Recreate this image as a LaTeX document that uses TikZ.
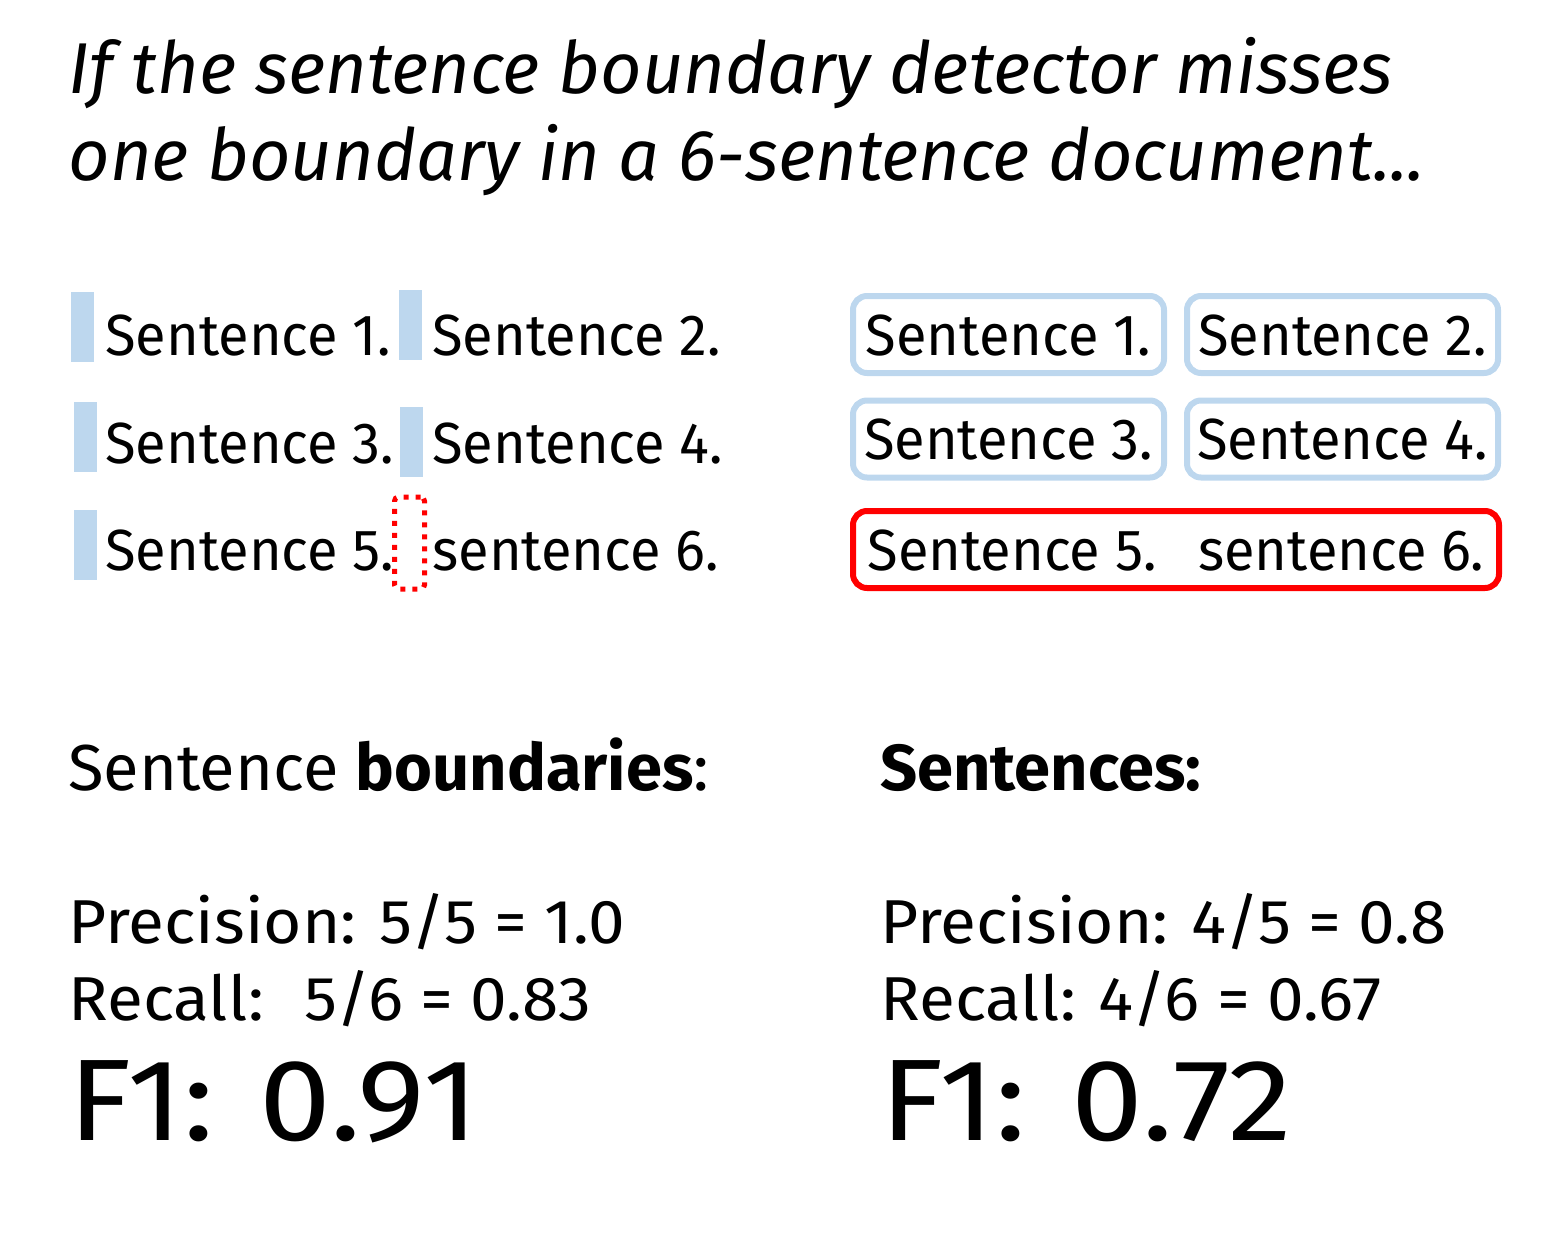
\documentclass[tikz,border=0pt]{standalone}
\usepackage{fontspec}
\setmainfont{Fira Sans}
\newfontfamily\sentfont[FakeStretch=0.965]{Fira Sans}
\newfontfamily\scorefont[FakeStretch=1.06]{Fira Sans}
\newfontfamily\fonefont[FakeStretch=1.11]{Fira Sans}
\usetikzlibrary{positioning}
\definecolor{BarBlue}{HTML}{BDD7EE}
\definecolor{MissRed}{HTML}{FF0000}
\tikzset{
    titletext/.style={anchor=base west, inner sep=0pt, font=\itshape\fontsize{36}{36}\selectfont},
    senttext/.style={anchor=base west, inner sep=0pt, font=\sentfont\fontsize{29}{29}\selectfont},
    bdry/.style={rectangle, fill=BarBlue, inner sep=0pt, minimum width=11.5pt, minimum height=35pt},
    missbdry/.style={rectangle, draw=MissRed, line width=2.5pt, dash pattern=on 2.5pt off 3.5pt, rounded corners=2pt, inner sep=0pt, minimum width=15pt, minimum height=46pt},
    sbox/.style={rectangle, rounded corners=7pt, draw=BarBlue, line width=3pt, inner sep=0pt,
                 minimum width=155.5pt, minimum height=38.5pt, text height=25pt, text depth=4.5pt,
                 font=\sentfont\fontsize{29}{29}\selectfont},
    headtext/.style={anchor=base west, inner sep=0pt, font=\fontsize{32.5}{32.5}\selectfont},
    scoretext/.style={anchor=base west, inner sep=0pt, font=\scorefont\fontsize{31}{31}\selectfont},
    fonetext/.style={anchor=base west, inner sep=0pt, font=\fonefont\fontsize{58}{58}\selectfont},
}

\begin{document}
\begin{tikzpicture}[x=0.5pt, y=-0.5pt]

    \useasboundingbox (0,0) rectangle (1549,1237);

    % --- Titolo ---
    \node[titletext] (title1) at (68, 93) {If the sentence boundary detector misses};
    \node[titletext] (title2) at (68, 180) {one boundary in a 6-sentence document...};

    % --- Confini di frase (sinistra) ---
    \node[bdry] (b1) at (82.5, 327) {};
    \node[senttext] (l1) at (105, 355) {Sentence 1.};
    \node[bdry] (b2) at (410.5, 324.5) {};
    \node[senttext] (l2) at (432, 355) {Sentence 2.};

    \node[bdry] (b3) at (85.5, 437) {};
    \node[senttext] (l3) at (105, 463) {Sentence 3.};
    \node[bdry] (b4) at (411, 441.5) {};
    \node[senttext] (l4) at (432, 463) {Sentence 4.};

    \node[bdry] (b5) at (85.5, 544.5) {};
    \node[senttext] (l5) at (105, 570) {Sentence 5.};
    \node[missbdry] (miss) at (409.5, 543) {}; % confine mancato
    \node[senttext] (l6) at (432, 570) {sentence 6.};

    % --- Frasi (destra) ---
    \node[sbox] (r1) at (1008.5, 334.5) {Sentence 1.};
    \node[sbox] (r2) at (1342.5, 334.5) {Sentence 2.};
    \node[sbox] (r3) at (1008.5, 439) {Sentence 3.};
    \node[sbox] (r4) at (1342.5, 439) {Sentence 4.};
    \node[sbox, draw=MissRed, minimum width=323pt] (r56) at (1176, 549.5) {Sentence 5.\hspace{11pt} sentence 6.};

    % --- Metriche ---
    \node[headtext] (hl) at (68, 790) {Sentence \textbf{boundaries}:};
    \node[scoretext] (pl) at (68, 943) {Precision: 5/5 = 1.0};
    \node[scoretext] (rl) at (68, 1020) {Recall:~ 5/6 = 0.83};
    \node[fonetext] (fl) at (68, 1140) {F1: 0.91};

    \node[headtext] (hr) at (880, 790) {\textbf{Sentences:}};
    \node[scoretext] (pr) at (880, 943) {Precision: 4/5 = 0.8};
    \node[scoretext] (rr) at (880, 1020) {Recall: 4/6 = 0.67};
    \node[fonetext] (fr) at (880, 1140) {F1: 0.72};

\end{tikzpicture}
\end{document}
